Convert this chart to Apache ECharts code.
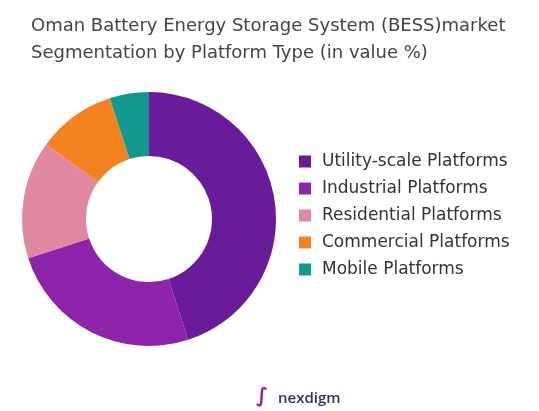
<!DOCTYPE html>
<html>
<head>
<meta charset="utf-8">
<script src="https://cdn.jsdelivr.net/npm/echarts@6/dist/echarts.min.js"></script>
<style>html,body{margin:0;padding:0;background:#fff}#main{width:539px;height:411px}</style>
</head>
<body>
<div id="main"></div>
<script>
const categories = ['Utility-scale Platforms', 'Industrial Platforms', 'Residential Platforms', 'Commercial Platforms', 'Mobile Platforms'];
const values = [45, 25, 15, 10, 5];
const colors = ['#6a1b9a', '#8e24aa', '#e088a0', '#f58220', '#11998e'];

const chart = echarts.init(document.getElementById('main'));
chart.setOption({
    title: {
        text: 'Oman Battery Energy Storage System (BESS)market\nSegmentation by Platform Type (in value %)',
        left: 26, top: 8,
        textStyle: {fontFamily: 'DejaVu Sans', fontSize: 18, fontWeight: 'normal', color: '#444', lineHeight: 27}
    },
    color: colors,
    legend: {
        orient: 'vertical',
        left: 294, top: 148,
        icon: 'rect', itemWidth: 12, itemHeight: 12, itemGap: 10,
        textStyle: {fontFamily: 'DejaVu Sans', fontSize: 17, color: '#333', padding: [0, 0, 0, 6]}
    },
    series: [{
        type: 'pie',
        center: [149, 219],
        radius: [63, 127],
        startAngle: 90,
        label: {show: false},
        labelLine: {show: false},
        data: categories.map((n, i) => ({name: n, value: values[i]}))
    }],
    graphic: [{
        type: 'text', left: 278, top: 391,
        style: {text: 'nexdigm', font: '600 15px "Open Sans"', fill: '#3a2a6a'}
    }, {
        type: 'text', left: 256, top: 387,
        style: {text: '\u222b', font: 'bold 20px "DejaVu Sans"', fill: '#8e24aa'}
    }]
});
</script>
</body>
</html>
